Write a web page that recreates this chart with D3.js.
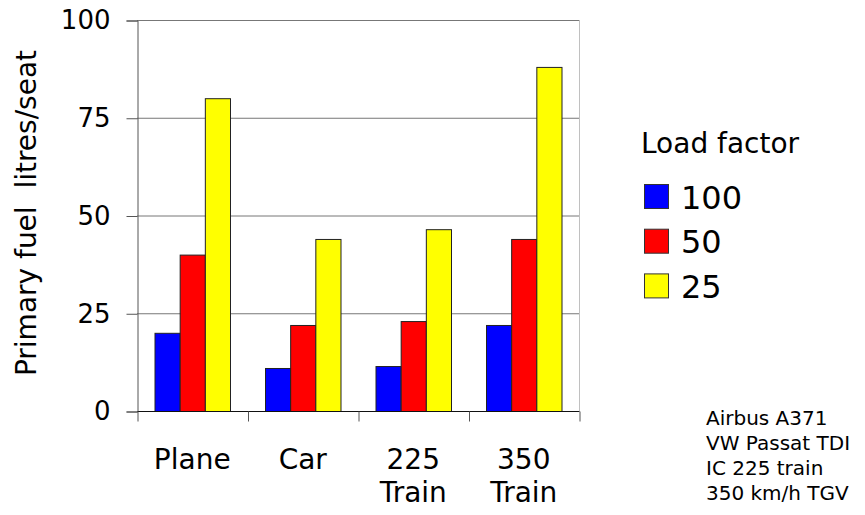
<!DOCTYPE html>
<html>
<head>
<meta charset="utf-8">
<script src="https://cdn.jsdelivr.net/npm/d3@7"></script>
<style>
  body { margin: 0; background: #fff; }
  svg { display: block; font-family: "DejaVu Sans", sans-serif; }
</style>
</head>
<body>
<svg class="chart" width="865" height="515"></svg>
<script>
const categories = [["Plane"], ["Car"], ["225", "Train"], ["350", "Train"]];
const series = ["100", "50", "25"];
const colors = ["#0000ff", "#ff0000", "#ffff00"];
const values = [
  [20, 40, 80],   // Plane
  [11, 22, 44],   // Car
  [11.5, 23, 46.5], // 225 Train
  [22, 44, 88],   // 350 Train
];
const yTicks = [0, 25, 50, 75, 100];
const notes = ["Airbus A371", "VW Passat TDI", "IC 225 train", "350 km/h TGV"];

const svg = d3.select(".chart");

const plotLeft = 137, plotRight = 579, plotTop = 20, plotBottom = 411;

const x = d3.scaleBand()
  .domain(d3.range(categories.length))
  .range([plotLeft, plotRight])
  .padding(0);

const xInner = d3.scaleBand()
  .domain(series)
  .range([17.5, 93]);

const y = d3.scaleLinear().domain([0, 100]).range([plotBottom, plotTop]);

// grid lines
svg.append("g")
  .selectAll("line")
  .data(yTicks.filter((d) => d > 0))
  .enter()
  .append("line")
  .attr("x1", plotLeft)
  .attr("x2", plotRight)
  .attr("y1", (d) => y(d) + 0.5)
  .attr("y2", (d) => y(d) + 0.5)
  .attr("stroke", "#777")
  .attr("stroke-width", 1);

// light right border
svg.append("line")
  .attr("x1", plotRight + 0.5).attr("x2", plotRight + 0.5)
  .attr("y1", plotTop).attr("y2", plotBottom)
  .attr("stroke", "#c0c0c0");

// bars
const groups = svg.append("g")
  .selectAll("g")
  .data(values)
  .enter()
  .append("g")
  .attr("transform", (d, i) => `translate(${x(i)},0)`);

groups.selectAll("rect")
  .data((d) => d.map((v, j) => ({ v, j })))
  .enter()
  .append("rect")
  .attr("x", (d) => xInner(series[d.j]) + 0.5)
  .attr("y", (d) => y(d.v) + 0.5)
  .attr("width", xInner.bandwidth())
  .attr("height", (d) => plotBottom - y(d.v))
  .attr("fill", (d) => colors[d.j])
  .attr("stroke", "#222")
  .attr("stroke-width", 1);

// y axis
const yAxis = svg.append("g")
  .attr("transform", `translate(${plotLeft + 0.5},0.5)`)
  .call(d3.axisLeft(y).tickValues(yTicks).tickSize(11).tickPadding(16));
yAxis.select(".domain").attr("stroke", "#555");
yAxis.selectAll(".tick line").attr("stroke", "#555");
yAxis.selectAll("text")
  .attr("font-size", 26)
  .attr("font-family", "DejaVu Sans")
  .attr("fill", "#000");

// x axis: ticks on category boundaries
const xb = d3.scaleLinear().domain([0, categories.length]).range([plotLeft, plotRight]);
const xAxis = svg.append("g")
  .attr("transform", `translate(0.5,${plotBottom + 0.5})`)
  .call(d3.axisBottom(xb).tickValues(d3.range(categories.length + 1)).tickSize(10).tickFormat(""));
xAxis.select(".domain").attr("stroke", "#111").attr("d", `M${plotLeft},0H${plotRight}`);
xAxis.selectAll(".tick line").attr("stroke", "#555");

// category labels
svg.append("g")
  .selectAll("text")
  .data(categories)
  .enter()
  .append("text")
  .attr("x", (d, i) => x(i) + x.bandwidth() / 2)
  .attr("y", 469)
  .attr("text-anchor", "middle")
  .attr("font-size", 28)
  .selectAll("tspan")
  .data((d) => d)
  .enter()
  .append("tspan")
  .attr("x", function () { return this.parentNode.getAttribute("x"); })
  .attr("dy", (d, i) => (i === 0 ? 0 : 33))
  .text((d) => d);

// y title
svg.append("text")
  .attr("transform", "translate(36,213) rotate(-90)")
  .attr("text-anchor", "middle")
  .attr("font-size", 28)
  .attr("xml:space", "preserve")
  .text("Primary fuel  litres/seat");

// legend
svg.append("text")
  .attr("x", 641)
  .attr("y", 153)
  .attr("font-size", 28)
  .text("Load factor");

const legend = svg.append("g")
  .selectAll("g")
  .data(series)
  .enter()
  .append("g")
  .attr("transform", (d, i) => `translate(644,${184 + i * 44.7})`);

legend.append("rect")
  .attr("x", 0.5)
  .attr("y", 0.5)
  .attr("width", 24)
  .attr("height", 24)
  .attr("fill", (d, i) => colors[i])
  .attr("stroke", "#333");

legend.append("text")
  .attr("x", 37)
  .attr("y", 24.5)
  .attr("font-size", 32)
  .text((d) => d);

// notes
svg.append("g")
  .selectAll("text")
  .data(notes)
  .enter()
  .append("text")
  .attr("x", 706)
  .attr("y", (d, i) => 425 + i * 25)
  .attr("font-size", 20)
  .text((d) => d);
</script>
</body>
</html>
